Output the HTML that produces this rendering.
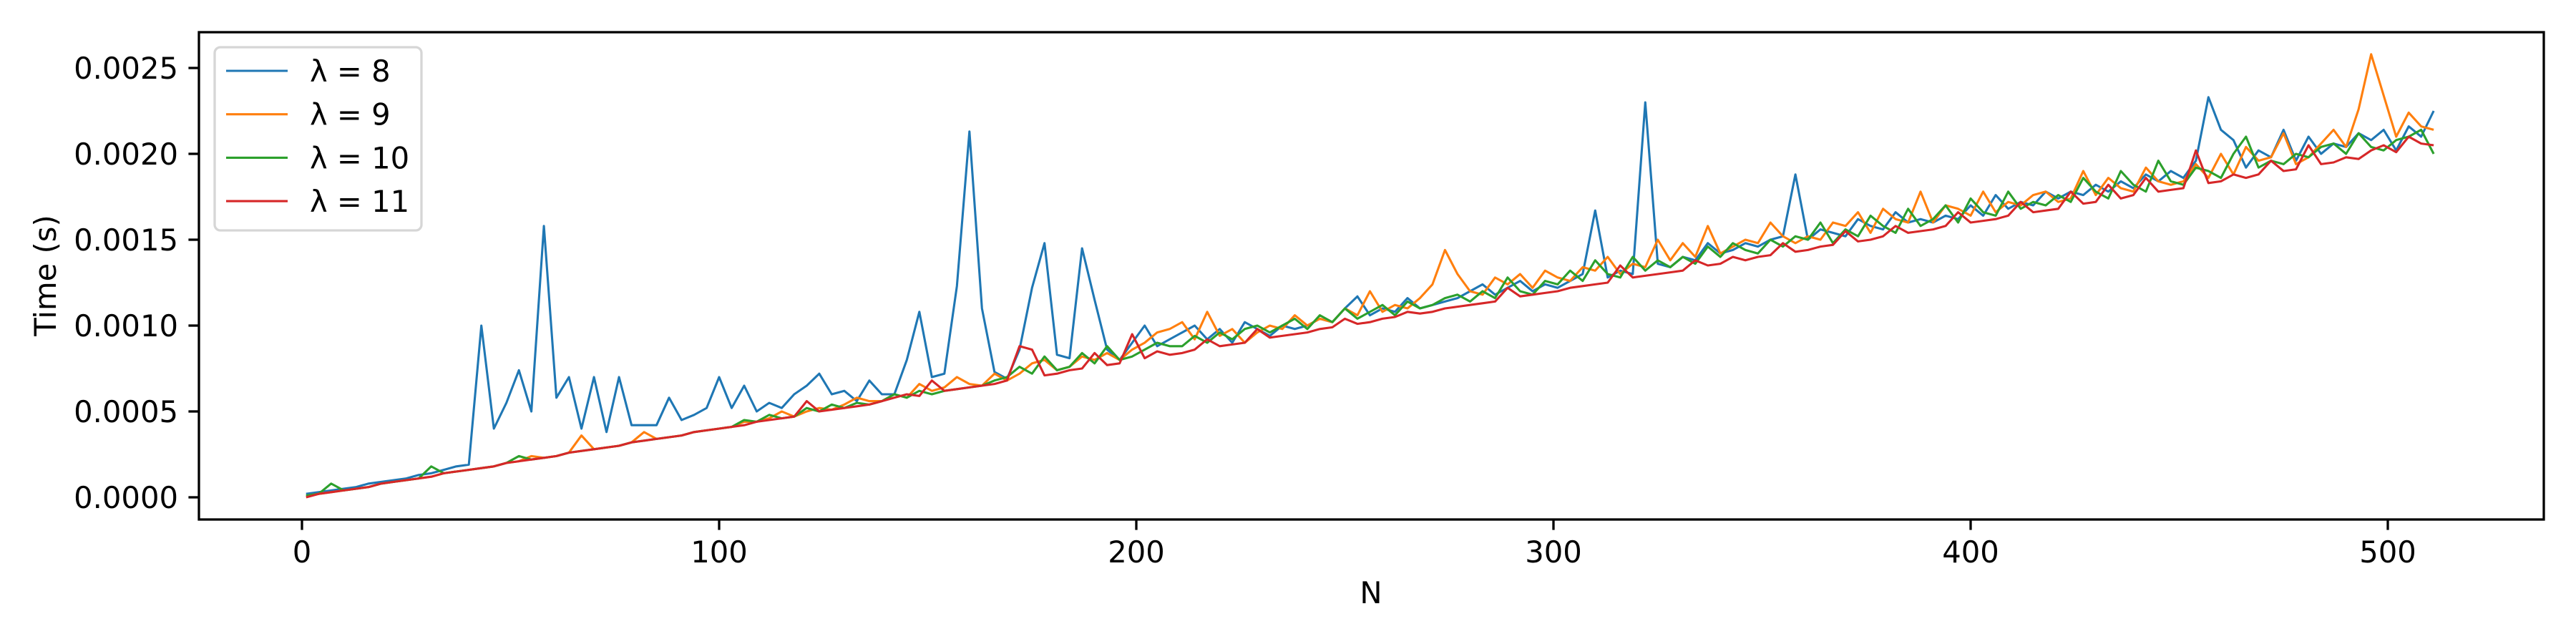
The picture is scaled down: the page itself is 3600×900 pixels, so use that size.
<!DOCTYPE html>
<html><head><meta charset="utf-8"><style>html,body{margin:0;padding:0;background:#fff}svg{display:block}text{font-family:"DejaVu Sans","Liberation Sans",sans-serif}</style></head>
<body>
<svg id="chart" width="3600" height="900" viewBox="0 0 3600 900" xmlns="http://www.w3.org/2000/svg">
<rect x="0" y="0" width="3600" height="900" fill="#fff"/>
<g id="plot"></g>
<g id="axes"></g>
<g id="legend"></g>
</svg>
<script>
const nValues = [1,4,7,10,13,16,19,22,25,28,31,34,37,40,43,46,49,52,55,58,61,64,67,70,73,76,79,82,85,88,91,94,97,100,103,106,109,112,115,118,121,124,127,130,133,136,139,142,145,148,151,154,157,160,163,166,169,172,175,178,181,184,187,190,193,196,199,202,205,208,211,214,217,220,223,226,229,232,235,238,241,244,247,250,253,256,259,262,265,268,271,274,277,280,283,286,289,292,295,298,301,304,307,310,313,316,319,322,325,328,331,334,337,340,343,346,349,352,355,358,361,364,367,370,373,376,379,382,385,388,391,394,397,400,403,406,409,412,415,418,421,424,427,430,433,436,439,442,445,448,451,454,457,460,463,466,469,472,475,478,481,484,487,490,493,496,499,502,505,508,511];
// times in units of 1e-5 s
const lambda8 = [2,3,4,5,6,8,9,10,11,13, 14,16,18,19,100,40,55,74,50,158, 58,70,40,70,38,70,42,42,42,58, 45,48,52,70,52,65,50,55,52,60, 65,72,60,62,56,68,60,60,80,108, 70,72,123,213,110,73,69,86,122,148, 83,81,145,115,86,80,90,100,88,92, 96,100,92,98,90,102,98,94,100,98, 100,104,102,110,117,106,110,108,116,110, 112,114,116,120,124,118,122,126,120,124, 122,126,130,167,128,132,130,230,136,134, 140,138,148,142,144,148,146,150,152,188, 150,156,154,152,162,158,156,166,160,162, 160,164,162,170,164,176,168,172,170,178, 174,178,176,182,178,184,180,188,184,190, 186,196,233,214,208,192,202,198,214,196, 210,200,206,204,212,208,214,202,216,210, 225];
const lambda9 = [1,2,3,4,5,6,8,9,10,11, 12,14,15,16,17,18,20,21,24,23, 24,26,36,28,29,30,32,38,34,35, 36,38,39,40,41,44,44,46,50,47, 50,52,51,54,58,56,56,60,58,66, 62,64,70,66,65,72,68,72,78,80, 74,76,82,80,84,80,86,90,96,98, 102,92,108,94,98,90,96,100,98,106, 100,104,102,110,106,120,108,112,110,116, 124,144,130,120,118,128,124,130,122,132, 128,126,134,132,140,130,136,134,150,138, 148,140,158,142,146,150,148,160,152,148, 152,150,160,158,166,154,168,162,160,178, 160,170,168,164,178,166,172,170,176,178, 172,174,190,176,186,180,178,192,184,182, 184,194,186,200,188,204,196,198,212,194, 198,206,214,204,226,258,234,210,224,216, 214];
const lambda10 = [1,2,8,4,5,6,8,9,10,11, 18,14,15,16,17,18,20,24,22,23, 24,26,27,28,29,30,32,33,34,35, 36,38,39,40,41,45,44,48,46,47, 52,50,54,52,55,54,56,60,58,62, 60,62,63,64,65,68,70,76,72,82, 74,76,84,78,88,80,82,86,90,88, 88,94,90,96,92,98,100,96,100,104, 98,106,102,110,104,108,112,106,114,110, 112,116,118,114,120,116,128,120,118,126, 124,132,126,138,130,128,140,132,138,134, 140,136,146,140,148,144,142,150,146,152, 150,160,148,156,152,164,158,154,168,158, 162,170,160,174,166,164,178,168,172,170, 176,172,186,178,174,190,182,178,196,184, 182,192,190,186,200,210,192,196,194,200, 198,204,206,200,212,204,202,208,210,214, 200];
const lambda11 = [0,2,3,4,5,6,8,9,10,11, 12,14,15,16,17,18,20,21,22,23, 24,26,27,28,29,30,32,33,34,35, 36,38,39,40,41,42,44,45,46,47, 56,50,51,52,53,54,56,58,60,59, 68,62,63,64,65,66,68,88,86,71, 72,74,75,84,77,78,95,81,85,83, 84,86,92,88,89,90,98,93,94,95, 96,98,99,104,101,102,104,105,108,107, 108,110,111,112,113,114,122,117,118,119, 120,122,123,124,125,135,128,129,130,131, 132,138,135,136,140,138,140,141,148,143, 144,146,147,155,149,150,152,158,154,155, 156,158,166,160,161,162,164,172,166,167, 168,178,171,172,182,174,176,186,178,179, 180,202,183,184,188,186,188,196,190,191, 205,194,195,198,197,202,205,201,210,206, 205];
const seriesNames = ["λ = 8","λ = 9","λ = 10","λ = 11"];
const seriesColors = ["#1f77b4","#ff7f0e","#2ca02c","#d62728"];
const xTicks = [0,100,200,300,400,500];
const yTicks = [0,50,100,150,200,250];
const yTickLabels = ["0.0000","0.0005","0.0010","0.0015","0.0020","0.0025"];

const NS="http://www.w3.org/2000/svg";
const AX={l:278,r:3555,t:45,b:726};
function xs(n){return 422+5.83*n;}
function ys(u){return 695-2.4*u;}
function mk(tag,attrs,parent){const e=document.createElementNS(NS,tag);for(const k in attrs)e.setAttribute(k,attrs[k]);parent.appendChild(e);return e;}
const plot=document.getElementById('plot'),axes=document.getElementById('axes'),legend=document.getElementById('legend');
const allSeries=[lambda8,lambda9,lambda10,lambda11];
const seriesKeys=["lambda-8","lambda-9","lambda-10","lambda-11"];
allSeries.forEach((s,i)=>{
  const pts=s.map((v,j)=>xs(nValues[j]).toFixed(1)+","+ys(v).toFixed(1)).join(" ");
  const pl=mk('polyline',{points:pts,fill:"none",stroke:seriesColors[i],"stroke-width":3.1,"stroke-linejoin":"round"},plot);
  
  
});
// frame
const fr=mk('rect',{x:AX.l,y:AX.t,width:AX.r-AX.l,height:AX.b-AX.t,fill:"none",stroke:"#000","stroke-width":3.3},axes);


xTicks.forEach(t=>{
  const x=xs(t);
  const tk=mk('line',{x1:x,y1:AX.b,x2:x,y2:AX.b+14.6,stroke:"#000","stroke-width":3.3},axes);
  
  
  const tx=mk('text',{x:x,y:786,"font-size":41.7,"text-anchor":"middle",fill:"#000"},axes);
  tx.textContent=String(t);
  
  
});
yTicks.forEach((t,i)=>{
  const y=ys(t);
  const tk=mk('line',{x1:AX.l-14.6,y1:y,x2:AX.l,y2:y,stroke:"#000","stroke-width":3.3},axes);
  
  
  const tx=mk('text',{x:AX.l-29,y:y+15,"font-size":41.7,"text-anchor":"end",fill:"#000"},axes);
  tx.textContent=yTickLabels[i];
  
  
});
const xl=mk('text',{x:1916,y:843,"font-size":41.7,"text-anchor":"middle",fill:"#000"},axes);
xl.textContent="N";


const yl=mk('text',{x:0,y:0,"font-size":41.7,"text-anchor":"middle",fill:"#000",transform:"translate(78,385) rotate(-90)"},axes);
yl.textContent="Time (s)";


// legend
const lb=mk('rect',{x:300,y:66,width:289,height:256,rx:8,fill:"#fff","fill-opacity":0.8,stroke:"#d6d6d6","stroke-width":3.3},legend);


seriesNames.forEach((nm,i)=>{
  const y=99+60.7*i;
  const g=mk('g',{},legend);
  
  
  mk('line',{x1:316,y1:y,x2:402,y2:y,stroke:seriesColors[i],"stroke-width":3.1},g);
  const t=mk('text',{x:433,y:y+15,"font-size":41.7,fill:"#000"},g);
  t.textContent=nm;
});
</script>
</body></html>
